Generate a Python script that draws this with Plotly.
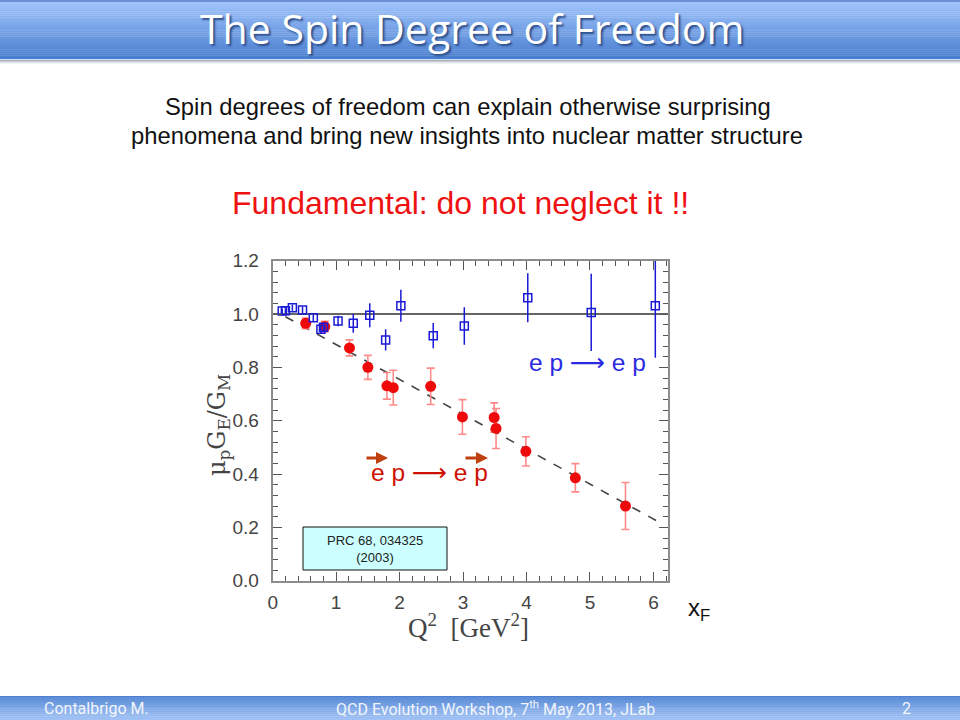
import plotly.graph_objects as go

# ---------------- data ----------------
blue_q2 = [0.15, 0.20, 0.31, 0.47, 0.64, 0.76, 0.80, 1.03, 1.27, 1.53, 1.78, 2.02, 2.53, 3.02, 4.02, 5.02, 6.03]
blue_ratio = [1.011, 1.012, 1.024, 1.015, 0.986, 0.943, 0.950, 0.974, 0.965, 0.995, 0.903, 1.031, 0.919, 0.955, 1.061, 1.006, 1.031]
blue_err = [0.010, 0.010, 0.012, 0.012, 0.012, 0.015, 0.015, 0.020, 0.035, 0.045, 0.040, 0.060, 0.047, 0.070, 0.092, 0.145, 0.195]

red_q2 = [0.52, 0.82, 1.21, 1.50, 1.80, 1.90, 2.49, 2.99, 3.49, 3.52, 3.99, 4.77, 5.56]
red_ratio = [0.965, 0.953, 0.873, 0.800, 0.731, 0.724, 0.729, 0.614, 0.612, 0.571, 0.485, 0.386, 0.280]
red_err = [0.020, 0.020, 0.030, 0.045, 0.050, 0.065, 0.068, 0.065, 0.055, 0.075, 0.055, 0.053, 0.088]

fit_q2 = [0.20, 6.05]
fit_ratio = [0.99, 0.225]

x_ticks = [0, 1, 2, 3, 4, 5, 6]
y_ticks = [0.0, 0.2, 0.4, 0.6, 0.8, 1.0, 1.2]
y_tick_labels = ["0.0", "0.2", "0.4", "0.6", "0.8", "1.0", "1.2"]

W, H = 960, 720


def px(x):
    return x / W


def py(y):
    return 1 - y / H


def lerp_color(c1, c2, t):
    a = [int(c1[i:i + 2], 16) for i in (1, 3, 5)]
    b = [int(c2[i:i + 2], 16) for i in (1, 3, 5)]
    return "#%02x%02x%02x" % tuple(round(a[k] + (b[k] - a[k]) * t) for k in range(3))


fig = go.Figure()

# dashed fit line
fig.add_trace(go.Scatter(x=fit_q2, y=fit_ratio, mode="lines",
                         line=dict(color="#444444", width=1.6, dash="dash"),
                         hoverinfo="skip", showlegend=False))

# red points (polarization transfer)
fig.add_trace(go.Scatter(x=red_q2, y=red_ratio, mode="markers",
                         marker=dict(symbol="circle", size=11, color="#ee0a0a"),
                         error_y=dict(type="data", array=red_err, color="#ff8a8a",
                                      thickness=1.6, width=4),
                         showlegend=False))

# blue points (Rosenbluth)
fig.add_trace(go.Scatter(x=blue_q2, y=blue_ratio, mode="markers",
                         marker=dict(symbol="square-open", size=8, color="#1a1ad6",
                                     line=dict(width=1.5, color="#1a1ad6")),
                         error_y=dict(type="data", array=blue_err, color="#1a1ad6",
                                      thickness=1.5, width=0),
                         showlegend=False))

shapes = []
# horizontal line at 1
shapes.append(dict(type="line", xref="x domain", yref="y", x0=0, x1=1, y0=1.0, y1=1.0,
                   line=dict(color="#333333", width=1.6), layer="below"))

# title banner gradient
n = 30
top, bot = 2, 59
shapes.append(dict(type="rect", xref="paper", yref="paper", x0=0, x1=1,
                   y0=py(2), y1=py(0), fillcolor="#6a8fd0", line=dict(width=0)))
for i in range(n):
    y0 = top + (bot - top) * i / n
    y1 = top + (bot - top) * (i + 1) / n
    c = lerp_color("#9fc3fb", "#4a7ecf", i / (n - 1))
    shapes.append(dict(type="rect", xref="paper", yref="paper", x0=0, x1=1,
                       y0=py(y1 + 0.3), y1=py(y0), fillcolor=c, line=dict(width=0)))
# shadow below banner
for i, c in enumerate(["#a9b0bb", "#c8cdd4", "#e2e5e9", "#f2f3f5"]):
    shapes.append(dict(type="rect", xref="paper", yref="paper", x0=0, x1=1,
                       y0=py(60 + i + 1), y1=py(60 + i), fillcolor=c, line=dict(width=0)))

# footer gradient
ft, fb = 696, 720
shapes.append(dict(type="rect", xref="paper", yref="paper", x0=0, x1=1,
                   y0=py(ft + 1), y1=py(ft), fillcolor="#4f7fd0", line=dict(width=0)))
m = 12
for i in range(m):
    y0 = ft + 1 + (fb - ft - 1) * i / m
    y1 = ft + 1 + (fb - ft - 1) * (i + 1) / m
    c = lerp_color("#5f8fd8", "#9ec0f4", i / (m - 1))
    shapes.append(dict(type="rect", xref="paper", yref="paper", x0=0, x1=1,
                       y0=py(y1 + 0.3), y1=py(y0), fillcolor=c, line=dict(width=0)))

# reference box
shapes.append(dict(type="rect", xref="paper", yref="paper", x0=px(303), x1=px(447),
                   y0=py(570), y1=py(527), fillcolor="#ccffff",
                   line=dict(color="#111111", width=1)))

annotations = []


def label(text, x, y, font, **kw):
    d = dict(text=text, x=px(x), y=py(y), xref="paper", yref="paper", showarrow=False,
             xanchor="center", yanchor="middle", font=font)
    d.update(kw)
    annotations.append(d)


label("The Spin Degree of Freedom", 472, 28.5,
      dict(family="Open Sans", size=41, color="#ffffff", shadow="2px 2px 2px #2c4f8a"),
      borderpad=0)
label("Spin degrees of freedom can explain otherwise surprising", 468, 106,
      dict(family="Liberation Sans", size=23.8, color="#111111"))
label("phenomena and bring new insights into nuclear matter structure", 467, 135,
      dict(family="Liberation Sans", size=23.8, color="#111111"))
label("Fundamental: do not neglect it !!", 460, 203,
      dict(family="Liberation Sans", size=32, color="#ee1111"))
label("e p \u27f6 e p", 587, 362, dict(family="Liberation Sans, DejaVu Sans", size=24.5, color="#2a2ae0"))
label("e p \u27f6 e p", 429, 472, dict(family="Liberation Sans, DejaVu Sans", size=24.5, color="#cc1100"))
# polarization arrows
for xa, xb in [(365, 388), (464, 488)]:
    annotations.append(dict(x=px(xb), y=py(458), ax=-(xb - xa), ay=0,
                            xref="paper", yref="paper", axref="pixel", ayref="pixel",
                            text="", showarrow=True, arrowhead=2, arrowsize=0.8,
                            arrowwidth=3, arrowcolor="#c04010"))
label("PRC 68, 034325<br>(2003)", 375, 548.5,
      dict(family="Liberation Sans", size=13, color="#222222"))
label("x<sub>F</sub>", 699, 609, dict(family="Liberation Sans", size=24, color="#111111"))
label("Q<sup>2</sup>  [GeV<sup>2</sup>]", 468, 626,
      dict(family="Liberation Serif", size=27, color="#444444"))
label("\u03bc<sub>p</sub>G<sub>E</sub>/G<sub>M</sub>", 218, 425,
      dict(family="DejaVu Serif", size=24, color="#444444"), textangle=-90)
# footer texts
foot_font = dict(family="Liberation Sans Narrow, Roboto, Liberation Sans", size=16, color="#f2f6fc")
label("Contalbrigo M.", 96, 708, foot_font)
label("QCD Evolution Workshop, 7<sup>th</sup> May 2013, JLab", 495, 708, foot_font)
label("2", 906, 708, foot_font)

axis_common = dict(showline=True, linecolor="#8c8c8c", linewidth=2, mirror="ticks",
                   ticks="inside", tickcolor="#555555", tickwidth=1.2, ticklen=9,
                   showgrid=False, zeroline=False,
                   tickfont=dict(family="Liberation Sans", size=19, color="#444444"))

fig.update_layout(
    width=W, height=H,
    margin=dict(l=0, r=0, t=0, b=0, autoexpand=False),
    paper_bgcolor="#ffffff", plot_bgcolor="#ffffff",
    showlegend=False,
    shapes=shapes,
    annotations=annotations,
    xaxis=dict(range=[0.0, 6.23], domain=[px(272.7), px(668)],
               tickvals=x_ticks, ticklabelstandoff=3,
               minor=dict(dtick=0.2, ticks="inside", ticklen=5, tickcolor="#555555", tickwidth=1),
               **axis_common),
    yaxis=dict(range=[0.0, 1.2], domain=[py(580.7), py(260.7)],
               tickvals=y_ticks, ticktext=y_tick_labels, ticklabelstandoff=8,
               minor=dict(dtick=0.04, ticks="inside", ticklen=5, tickcolor="#555555", tickwidth=1),
               **axis_common),
)

fig.write_html("out.html", config={"displayModeBar": False},
               post_script="document.body.style.margin='0';document.body.style.overflow='hidden';")
